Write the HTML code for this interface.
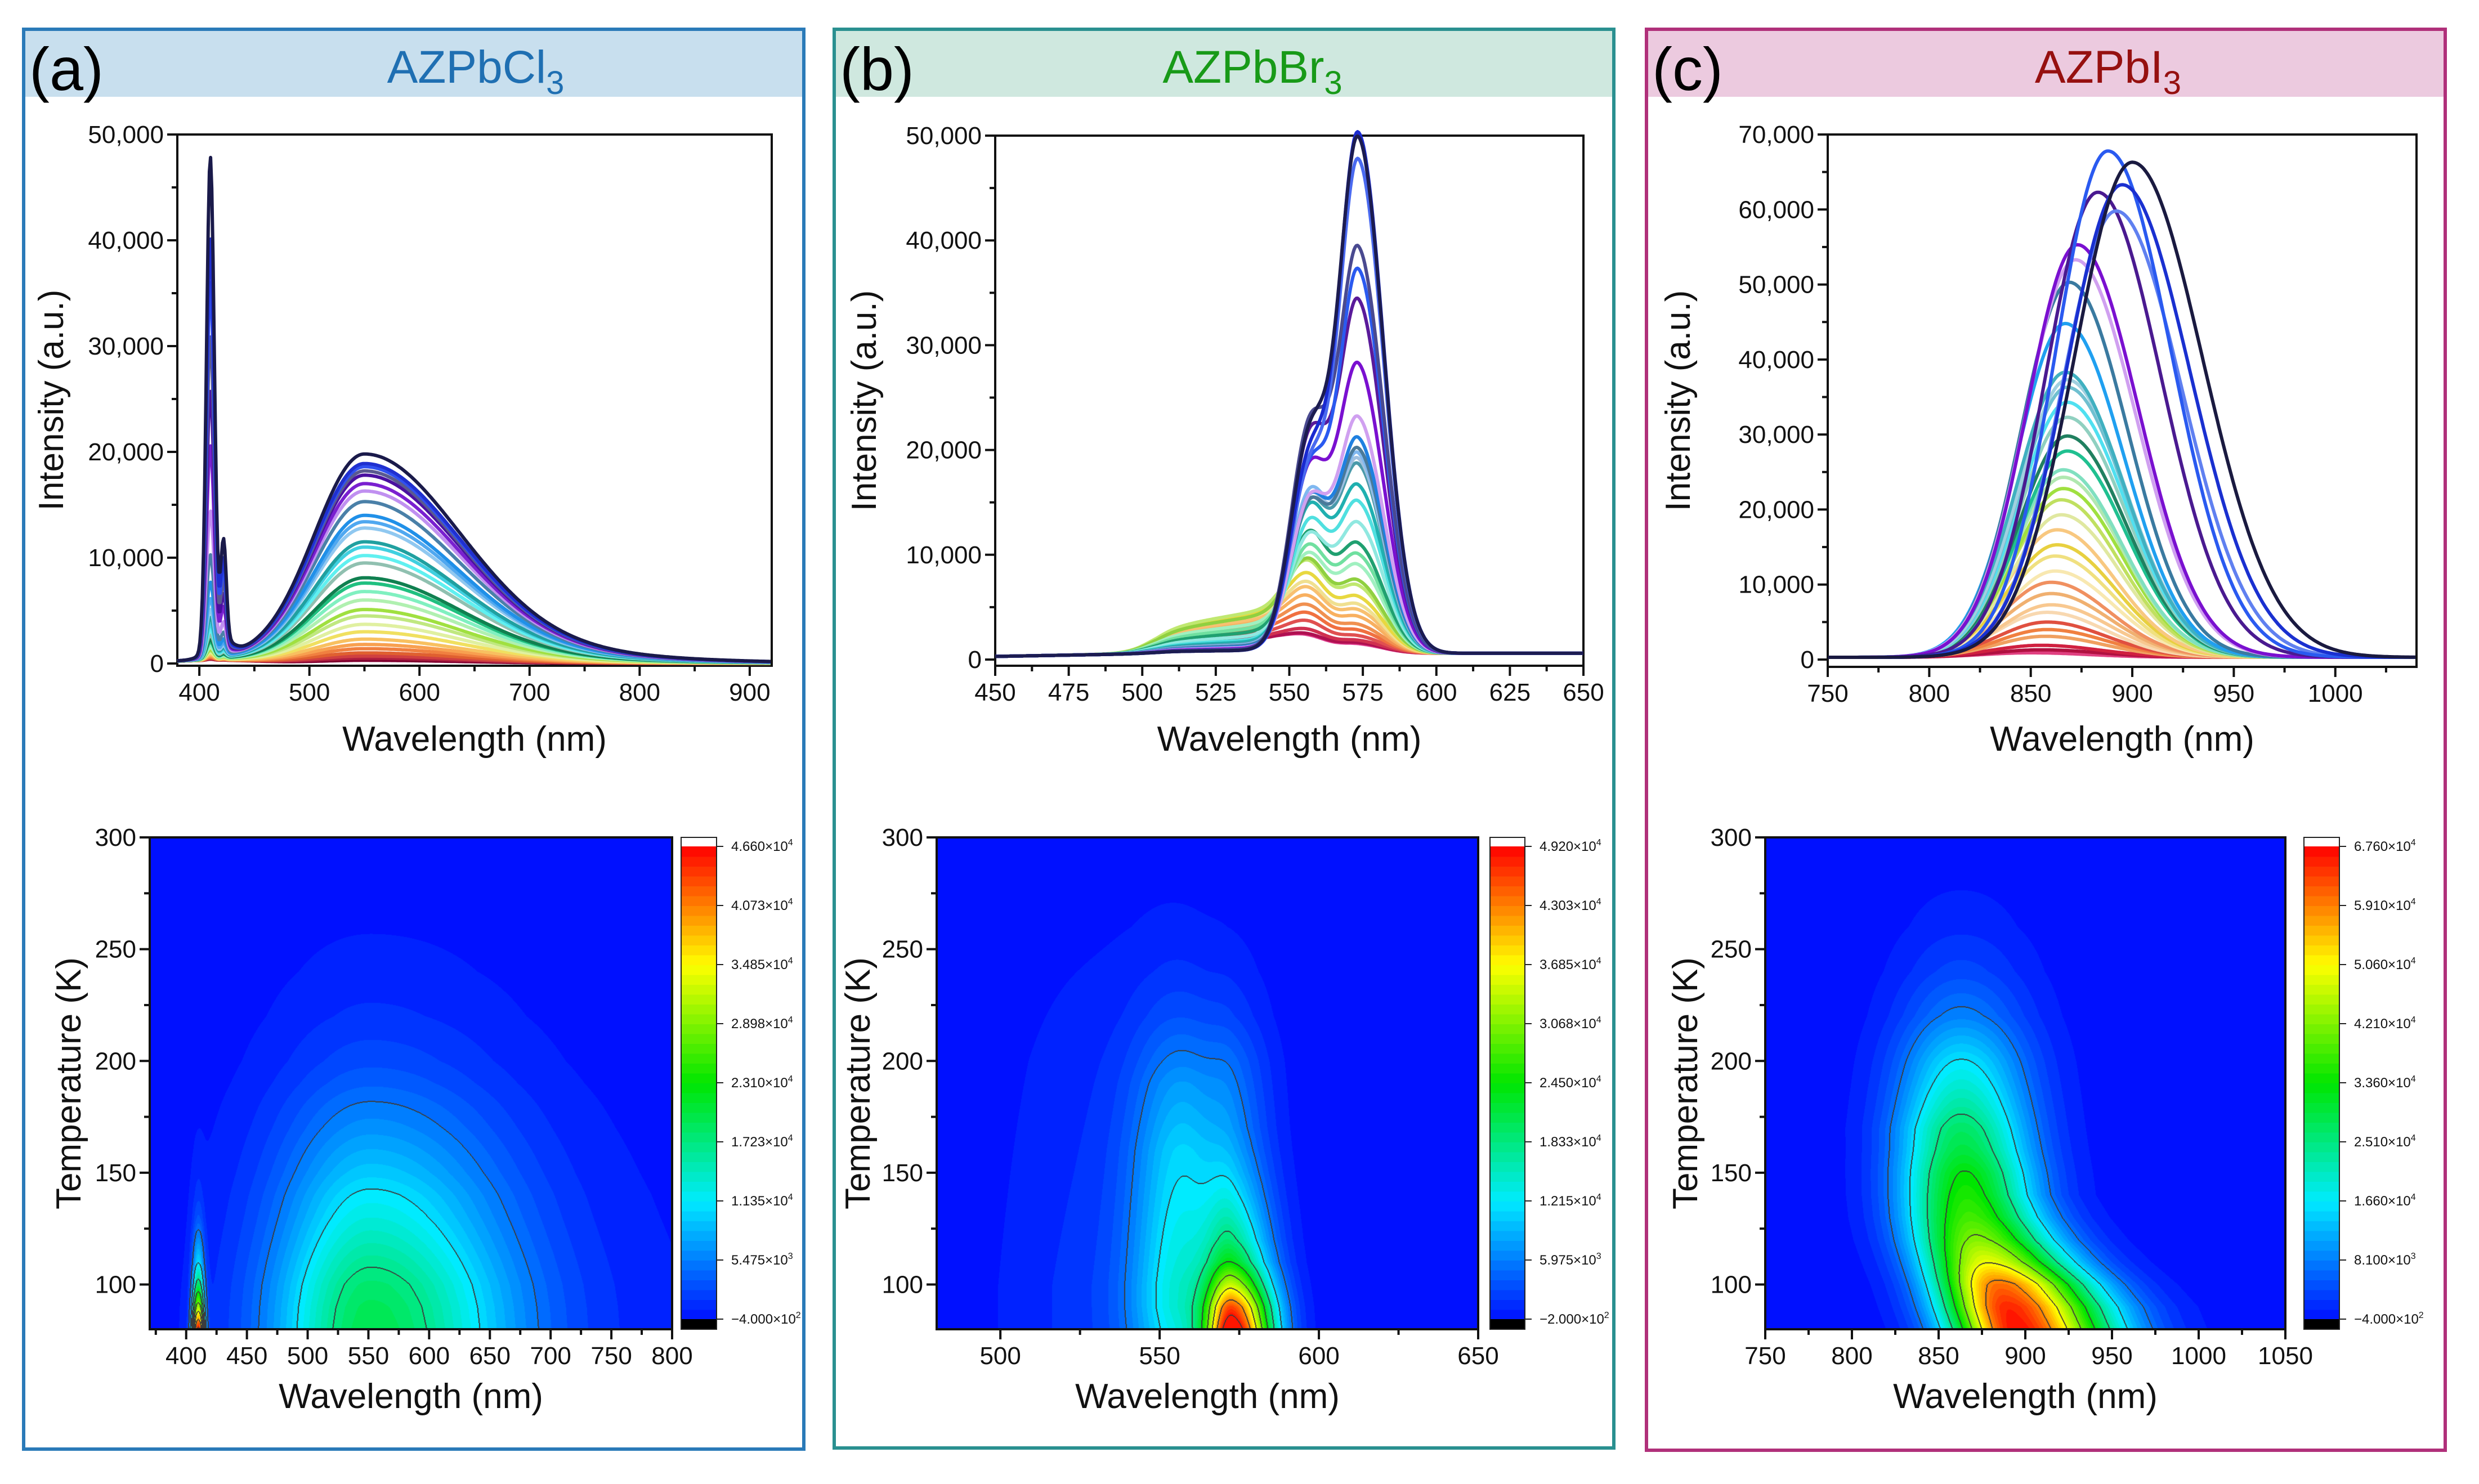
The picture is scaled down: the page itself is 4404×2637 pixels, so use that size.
<!DOCTYPE html>
<html><head><meta charset="utf-8">
<style>
html,body{margin:0;padding:0;background:#fff;}
#wrap{position:relative;width:4404px;height:2637px;overflow:hidden;font-family:"Liberation Sans",Arial,sans-serif;}
svg{position:absolute;left:0;top:0;}
canvas{position:absolute;}
</style></head>
<body>
<div id="wrap">
<canvas id="hmA"></canvas>
<canvas id="hmB"></canvas>
<canvas id="hmC"></canvas>
<svg id="main" width="4404" height="2637" viewBox="0 0 4404 2637"></svg>
</div>
<script>
// ---------------- DATA ----------------
const aColors=["#1a1a4a","#2030d0","#3050f0","#5a5a90","#4a10a0","#7a20d0","#c090f0","#4a80a8","#2090e8","#50a8f0","#90c8f0","#20a0a0","#40d0e0","#60f0f0","#90c0b0","#108050","#20c080","#80f0c0","#b0f0b0","#a0e040","#c0e880","#e0f0a0","#f0e060","#f8c060","#f8a050","#f08040","#e06030","#d04040","#b02040","#800030"];
const aBroad=[19800,18900,18600,18200,17800,17000,16300,15300,14000,13400,12800,11500,11000,10200,9500,8100,7600,6800,6000,5100,4500,3700,3000,2300,1800,1400,1000,700,500,300];
const aNarrow=[46000,38500,34500,29500,24500,19500,13500,9500,7000,5500,4500,3800,3200,2700,2200,1800,1600,1300,1100,900,800,700,600,500,400,300,250,200,100,100];
const bColors=["#1c1c50","#1a2ad0","#4a6af0","#4a4a90","#2a5af0","#5a1a9a","#7a10d0","#d0a0f0","#2080e0","#4a7a9a","#80b8f0","#a0c0e0","#4a9aaa","#20b0b0","#50e0e0","#90e8e0","#20a070","#70e0a0","#a0f0c0","#90d040","#c0e870","#e8d840","#f0e090","#f8c070","#f8b060","#f09050","#f07040","#e05050","#d03050","#b01050","#e04090"];
const bMain=[48500,49000,46500,38000,36000,33000,27000,22000,20000,19000,18500,18000,17500,15500,14000,12000,10000,9000,8000,6500,6000,5000,4300,3800,3200,2500,2000,1500,1100,900,800];
const bShoulder=[20000,18000,17000,21000,17000,20000,17000,14000,14000,13500,14500,14000,13500,13000,11500,10000,10000,8500,7500,6500,6000,5000,4300,4000,3400,2800,2300,1800,1200,900,800];
const bBroad=[300,300,300,400,400,400,500,600,700,800,900,900,1000,1200,1400,1800,2200,2600,3000,3800,4300,4000,3800,3500,3200,2800,2400,2000,1700,1500,1500];
const cColors=["#1a1a40","#1a30d0","#2a5af0","#6080f0","#4a1a90","#7a10d0","#d0a0f0","#3a7aa0","#20a0f0","#40b0c0","#a0d0e0","#70c0d0","#50e0f0","#90d0c0","#208060","#20c090","#80e0c0","#b0e8b0","#a0e040","#c0e060","#e0e8a0","#f8c880","#e8d040","#f0e080","#f8e8b0","#f09060","#f0b070","#f8c890","#f8d8b0","#e05040","#f08040","#f0a060","#d02040","#b01040","#e04080"];
const cCenter=[900,895,888,892,883,873,872,869,867,867,868,868,868,868,868,868,866,866,866,865,865,863,863,862,862,860,860,860,858,858,858,857,855,855,850];
const cAmp=[66000,63000,67500,59500,62000,55000,53000,50000,44500,38000,37000,36000,34000,32000,29500,27500,25000,24000,22500,21000,19000,17000,15000,13500,11500,10000,8500,7000,6000,4700,3700,2800,1600,1000,600];
const cSigma=[30,29,27,28,27,26,26,25,25,25,25,25,25,25,25,25,25,25,25,25,25,25,25,25,25,25,25,25,25,25,25,25,25,25,25];
const hmTemps=[80,90,100,110,120,130,140,150,160,170,180,190,200,220,240,260,280,300];
const hmA_broad=[20000,19500,18500,16800,15000,13300,11800,10000,8500,7000,5700,4300,3200,1800,1000,500,200,0];
const hmA_narrow=[46600,30000,18000,10000,6000,3000,1500,800,400,200,100,0,0,0,0,0,0,0];
const hmB_main=[49200,42000,30000,20000,15000,12000,9500,7500,6000,5000,4500,4000,3500,1800,900,400,200,100];
const hmB_shoulder=[12000,13000,13000,12500,12000,11500,11000,10500,10000,9000,8000,7000,5500,3000,1500,700,300,100];
const hmB_broad=[2500,2500,2500,2400,2300,2200,2100,2000,1900,1800,1700,1600,1500,1200,900,600,400,200];
const hmC_center=[895,890,885,878,872,868,866,865,864,863,863,863,863,863,863,863,863,863];
const hmC_amp=[67600,66000,61000,50000,43000,38500,36000,33800,30000,27500,23500,20000,16800,9000,4500,2000,800,300];
const cbA=[["4.660","4"],["4.073","4"],["3.485","4"],["2.898","4"],["2.310","4"],["1.723","4"],["1.135","4"],["5.475","3"],["\u22124.000","2"]];
const cbB=[["4.920","4"],["4.303","4"],["3.685","4"],["3.068","4"],["2.450","4"],["1.833","4"],["1.215","4"],["5.975","3"],["\u22122.000","2"]];
const cbC=[["6.760","4"],["5.910","4"],["5.060","4"],["4.210","4"],["3.360","4"],["2.510","4"],["1.660","4"],["8.100","3"],["\u22124.000","2"]];

// ---------------- HELPERS ----------------
const NS="http://www.w3.org/2000/svg";
const svg=document.getElementById('main');
function mk(tag,attrs,parent){const e=document.createElementNS(NS,tag);for(const k in attrs)e.setAttribute(k,attrs[k]);(parent||svg).appendChild(e);return e;}
function gauss(x,c,s){return Math.exp(-(x-c)*(x-c)/(2*s*s));}
function sig(x,c,w){return 1/(1+Math.exp(-(x-c)/w));}
function interp(arrX,arrY,x){if(x<=arrX[0])return arrY[0];for(let i=1;i<arrX.length;i++){if(x<=arrX[i]){const t=(x-arrX[i-1])/(arrX[i]-arrX[i-1]);return arrY[i-1]+t*(arrY[i]-arrY[i-1]);}}return arrY[arrY.length-1];}
function fmt(n){return n.toString().replace(/\B(?=(\d{3})+(?!\d))/g,",");}

// ---------------- PANELS ----------------
const panels=[
 {name:'panel-a',x:42,x2:1428,y:52,y2:2575,border:'#2a7ab8',head:'#c8dfee',label:'(a)',title:'AZPbCl',tcol:'#1f6fb2',tx:845},
 {name:'panel-b',x:1482,x2:2867,y:52,y2:2573,border:'#2a9090',head:'#cfe8df',label:'(b)',title:'AZPbBr',tcol:'#189a18',tx:2225},
 {name:'panel-c',x:2925,x2:4344,y:52,y2:2577,border:'#b0307a',head:'#eccadf',label:'(c)',title:'AZPbI',tcol:'#961010',tx:3745}
];
panels.forEach(p=>{
  const h=mk('rect',{x:p.x,y:p.y,width:p.x2-p.x,height:120,fill:p.head});
  
  
  const b=mk('rect',{x:p.x,y:p.y,width:p.x2-p.x,height:p.y2-p.y,fill:'none',stroke:p.border,'stroke-width':6});
  
  
  const l=mk('text',{x:p.x+10,y:p.y+108,'font-size':108,fill:'#000'});
  l.textContent=p.label;
  
  
  const t=mk('text',{x:p.tx,y:p.y+95,'font-size':82,fill:p.tcol,'text-anchor':'middle'});
  
  
  t.appendChild(document.createTextNode(p.title));
  const s=mk('tspan',{'font-size':58,dy:20},t);s.textContent='3';
});

// ---------------- AXES ----------------
function axes(c){
  const sx=v=>c.x0+(v-c.xmin)/(c.xmax-c.xmin)*(c.x1-c.x0);
  const sy=v=>c.y1-(v-c.ymin)/(c.ymax-c.ymin)*(c.y1-c.y0);
  c.sx=sx;c.sy=sy;
  const g=mk('g',{});
  
  
  if(c.frame){const r=mk('rect',{x:c.x0,y:c.y0,width:c.x1-c.x0,height:c.y1-c.y0,fill:'none',stroke:'#111','stroke-width':4},g);
    
    }
  for(let v=c.xminor0;v<=c.xmax+1e-6;v+=c.xminor){const X=sx(v);const major=Math.abs(((v-c.xmaj0)/c.xmajor)-Math.round((v-c.xmaj0)/c.xmajor))<1e-6;
    mk('line',{x1:X,x2:X,y1:c.y1,y2:c.y1+(major?18:10),stroke:'#111','stroke-width':4},g);
    if(major&&v>=c.xmaj0-1e-6){const t=mk('text',{x:X,y:c.y1+62,'font-size':c.fs,'text-anchor':'middle',fill:'#111'},g);t.textContent=c.xfmt?c.xfmt(v):v;
      
      }}
  for(let v=c.yminor0;v<=c.ymax+1e-6;v+=c.yminor){const Y=sy(v);const major=Math.abs(((v-c.ymaj0)/c.ymajor)-Math.round((v-c.ymaj0)/c.ymajor))<1e-6;
    mk('line',{x1:c.x0,x2:c.x0-(major?18:10),y1:Y,y2:Y,stroke:'#111','stroke-width':4},g);
    if(major){const t=mk('text',{x:c.x0-24,y:Y+15,'font-size':c.fs,'text-anchor':'end',fill:'#111'},g);t.textContent=c.yfmt?c.yfmt(v):v;
      
      }}
  const xt=mk('text',{x:(c.x0+c.x1)/2,y:c.xty,'font-size':62,'text-anchor':'middle',fill:'#111'});
  xt.textContent='Wavelength (nm)';
  
  
  const ym=(c.y0+c.y1)/2;
  const yt=mk('text',{x:c.ytx,y:ym,'font-size':62,'text-anchor':'middle',fill:'#111',transform:`rotate(-90 ${c.ytx} ${ym})`});
  yt.textContent=c.ytitle;
  
  
  return c;
}

// ---------------- TOP SPECTRA ----------------
function drawCurves(c,n,colors,fn,name){
  const g=mk('g',{});
  
  
  for(let i=n-1;i>=0;i--){
    let d='';
    for(let x=c.xmin;x<=c.xmax;x+=(c.xmax-c.xmin)/500){
      const v=fn(i,x);d+=(d?'L':'M')+c.sx(x).toFixed(1)+','+c.sy(v).toFixed(1);
    }
    const p=mk('path',{d:d,fill:'none',stroke:colors[i],'stroke-width':6,'stroke-linejoin':'round'},g);
    
    
  }
}
const TA=axes({name:'a-spectra',x0:315,x1:1371,y0:239,y1:1183,xmin:380,xmax:920,ymin:-213,ymax:50000,frame:true,fs:44,
  xminor0:400,xminor:50,xmaj0:400,xmajor:100,yminor0:0,yminor:5000,ymaj0:0,ymajor:10000,yfmt:fmt,xty:1334,ytx:112,ytitle:'Intensity (a.u.)'});
drawCurves(TA,aBroad.length,aColors,(i,x)=>{
  const s=x<550?45:85;
  const br=aBroad[i]*(0.9*gauss(x,550,s)+0.1*gauss(x,550,x<550?60:170));
  const nr=aNarrow[i]*gauss(x,410,3.5)+aNarrow[i]*0.2*gauss(x,422,2.5)+aNarrow[i]*0.04*gauss(x,418,10);
  return br+nr+300*gauss(x,415,40);
},'a');

const TB=axes({name:'b-spectra',x0:1768,x1:2813,y0:241,y1:1183,xmin:450,xmax:650,ymin:-590,ymax:50000,frame:true,fs:44,
  xminor0:450,xminor:12.5,xmaj0:450,xmajor:25,yminor0:0,yminor:5000,ymaj0:0,ymajor:10000,yfmt:fmt,xty:1334,ytx:1556,ytitle:'Intensity (a.u.)'});
drawCurves(TB,bMain.length,bColors,(i,x)=>{
  const m=bMain[i]*gauss(x,573.5,x<573.5?6.5:8.5);
  const sh=bShoulder[i]*gauss(x,557,6.5);
  const br=bBroad[i]*sig(x,503,4)*(0.55+0.45*Math.min(1,Math.max(0,(x-505)/40)))*(x>545?gauss(x,545,12):1);
  return m+sh+br+300*Math.min(1,Math.max(0,(x-450)/60))+300;
},'b');

const TC=axes({name:'c-spectra',x0:3247,x1:4293,y0:239,y1:1185,xmin:750,xmax:1040,ymin:-975,ymax:70000,frame:true,fs:44,
  xminor0:750,xminor:25,xmaj0:750,xmajor:50,yminor0:0,yminor:5000,ymaj0:0,ymajor:10000,yfmt:fmt,xty:1334,ytx:3002,ytitle:'Intensity (a.u.)'});
drawCurves(TC,cAmp.length,cColors,(i,x)=>{
  const s=x<cCenter[i]?cSigma[i]*0.95:cSigma[i]*1.15;
  return cAmp[i]*gauss(x,cCenter[i],s)+300;
},'c');

// ---------------- HEATMAPS ----------------
function colormap(f){
  const st=[[0,0,16,255],[0.25,0,235,255],[0.5,0,230,0],[0.75,255,255,0],[1,255,0,0]];
  if(f<=0)return [0,16,255];
  if(f>=1)return [255,0,0];
  for(let i=1;i<st.length;i++){if(f<=st[i][0]){const t=(f-st[i-1][0])/(st[i][0]-st[i-1][0]);
    return [0,1,2].map(k=>Math.round(st[i-1][k+1]+t*(st[i][k+1]-st[i-1][k+1])));}}
}
function heatmap(id,c,vmin,vmax,fn){
  const cv=document.getElementById(id);
  const w=Math.round(c.x1-c.x0),h=Math.round(c.y1-c.y0);
  cv.width=w;cv.height=h;cv.style.left=c.x0+'px';cv.style.top=c.y0+'px';
  const ctx=cv.getContext('2d');const img=ctx.createImageData(w,h);
  const nlev=48,step=(vmax-vmin)/8;
  const band=new Int16Array(w*h),cl=new Int16Array(w*h);
  for(let j=0;j<h;j++){const T=c.ymax-(j+0.5)/h*(c.ymax-c.ymin);
    for(let i=0;i<w;i++){const L=c.xmin+(i+0.5)/w*(c.xmax-c.xmin);
      const v=fn(L,T);const f=(v-vmin)/(vmax-vmin);
      band[j*w+i]=Math.floor(Math.max(0,Math.min(0.999,f))*nlev);
      cl[j*w+i]=Math.floor((v-vmin)/step);}}
  for(let k=0;k<w*h;k++){
    const i=k%w,j=(k-i)/w;
    let col=colormap(band[k]/nlev);
    const c0=cl[k];
    let edge=false;
    for(const [di,dj] of [[1,0],[0,1],[-1,0],[0,-1],[2,0],[0,2],[-2,0],[0,-2]]){const ii=i+di,jj=j+dj;if(ii<0||jj<0||ii>=w||jj>=h)continue;if(cl[jj*w+ii]>c0&&c0>=0){edge=true;}}
    if(edge)col=[60,60,60];
    img.data[4*k]=col[0];img.data[4*k+1]=col[1];img.data[4*k+2]=col[2];img.data[4*k+3]=255;}
  ctx.putImageData(img,0,0);
}
function colorbar(c,x0,x1,labels,name){
  const top=c.y0,bot=c.y1,ct=top+16,cb=bot-18;
  const g=mk('g',{});
  
  
  const n=48;
  for(let k=0;k<n;k++){const y=cb-(k+1)*(cb-ct)/n;const col=colormap((k+0.5)/n);
    mk('rect',{x:x0,y:y,width:x1-x0,height:(cb-ct)/n+1,fill:`rgb(${col})`},g);}
  mk('rect',{x:x0,y:cb,width:x1-x0,height:bot-cb,fill:'#000'},g);
  mk('rect',{x:x0,y:top,width:x1-x0,height:bot-top,fill:'none',stroke:'#222','stroke-width':2},g);
  labels.forEach((lb,i)=>{const y=ct+i*(cb-ct)/(labels.length-1);
    mk('line',{x1:x1,x2:x1+12,y1:y,y2:y,stroke:'#222','stroke-width':2},g);
    const t=mk('text',{x:x1+26,y:y+8,'font-size':24,fill:'#111'},g);
    
    
    t.appendChild(document.createTextNode(lb[0]+'\u00d710'));
    const s=mk('tspan',{'font-size':16,dy:-10},t);s.textContent=lb[1];});
}
const BA=axes({name:'a-map',x0:266,x1:1194,y0:1488,y1:2362,xmin:370,xmax:800,ymin:80,ymax:300,frame:false,fs:44,
  xminor0:375,xminor:25,xmaj0:400,xmajor:50,yminor0:100,yminor:25,ymaj0:100,ymajor:50,xty:2502,ytx:143,ytitle:'Temperature (K)'});
heatmap('hmA',BA,-400,46600,(L,T)=>{
  const br=interp(hmTemps,hmA_broad,T)*(0.9*gauss(L,552,L<552?55:80)+0.1*gauss(L,552,L<552?80:160));
  const nr=interp(hmTemps,hmA_narrow,T)*gauss(L,410,3.5);
  return br+nr;});
colorbar(BA,1210,1273,cbA,'a');
const BB=axes({name:'b-map',x0:1664,x1:2626,y0:1488,y1:2362,xmin:480,xmax:650,ymin:80,ymax:300,frame:false,fs:44,
  xminor0:500,xminor:25,xmaj0:500,xmajor:50,yminor0:100,yminor:25,ymaj0:100,ymajor:50,xty:2502,ytx:1545,ytitle:'Temperature (K)'});
heatmap('hmB',BB,-200,49200,(L,T)=>{
  const m=interp(hmTemps,hmB_main,T)*gauss(L,573,L<573?6:9);
  const sh=interp(hmTemps,hmB_shoulder,T)*gauss(L,557,L<557?11:10);
  const br=interp(hmTemps,hmB_broad,T)*gauss(L,535,24);
  return m+sh+br;});
colorbar(BB,2647,2709,cbB,'b');
const BC=axes({name:'c-map',x0:3136,x1:4060,y0:1488,y1:2362,xmin:750,xmax:1050,ymin:80,ymax:300,frame:false,fs:44,
  xminor0:750,xminor:25,xmaj0:750,xmajor:50,yminor0:100,yminor:25,ymaj0:100,ymajor:50,xty:2502,ytx:3015,ytitle:'Temperature (K)'});
heatmap('hmC',BC,-400,67600,(L,T)=>{
  const c0=interp(hmTemps,hmC_center,T);
  const sR=28+10*Math.max(0,Math.min(1,(140-T)/50));
  const s=L<c0?26:sR;
  return interp(hmTemps,hmC_amp,T)*gauss(L,c0,s);});
colorbar(BC,4093,4156,cbC,'c');
[BA,BB,BC].forEach(c=>{
  const r=mk('rect',{x:c.x0,y:c.y0,width:c.x1-c.x0,height:c.y1-c.y0,fill:'none',stroke:'#111','stroke-width':4});
  
  
});
</script>
</body></html>
